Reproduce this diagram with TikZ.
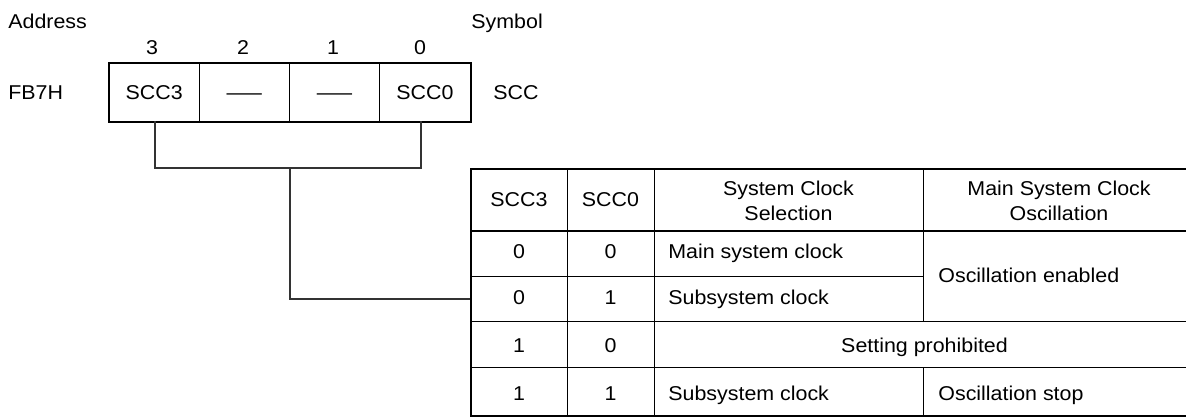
\documentclass[tikz,border=0pt]{standalone}
\usepackage{fontspec}
\setmainfont[FakeStretch=1.07]{Liberation Sans}
\begin{document}
\begin{tikzpicture}[x=0.5pt,y=-0.5pt,
  font=\fontsize{10}{12.5}\selectfont,
  txt/.style={inner sep=0pt, anchor=base},
  ltxt/.style={inner sep=0pt, anchor=base west},
  regcell/.style={draw, line width=0.5pt, minimum width=45.125pt, minimum height=29pt, inner sep=0pt, anchor=center, text height=0pt, text depth=0pt},
  frame/.style={line width=1pt},
  grid/.style={line width=0.5pt},
  conn/.style={line width=0.65pt, black!80}]
\useasboundingbox (0,0) rectangle (1186,418);
\clip (0,0) rectangle (1186,418);

% labels above register
\node[ltxt] (addr) at (8,28) {Address};
\node[ltxt] (sym) at (471,28) {Symbol};
\node[txt] (n3) at (152,54) {3};
\node[txt] (n2) at (243,54) {2};
\node[txt] (n1) at (333,54) {1};
\node[txt] (n0) at (420,54) {0};
\node[ltxt] (adr) at (8,99) {FB7H};
\node[ltxt] (symb) at (493,99) {SCC};

% register cells
\node[regcell] (b3) at (154.125,92) {};
\node[regcell] (b2) at (244.375,92) {};
\node[regcell] (b1) at (334.625,92) {};
\node[regcell] (b0) at (424.875,92) {};
\node[txt] (t3) at (154.125,99) {SCC3};
\node[txt] (t2) at (244.375,99) {\scalebox{1.65}[1]{—}};
\node[txt] (t1) at (334.625,99) {\scalebox{1.65}[1]{—}};
\node[txt] (t0) at (424.875,99) {SCC0};
\draw[frame] (b3.north west) rectangle (b0.south east);

% connector
\coordinate (j) at (290,168);
\coordinate (tin) at (471,299);
\coordinate (c3) at (155,121);
\coordinate (c0) at (421,121);
\draw[conn] (c3) |- (j) -| (c0);
\draw[conn] (j) |- (tin);

% table grid
\draw[grid] (567,169) -- (567,416);
\draw[grid] (654,169) -- (654,416);
\draw[grid] (923,169) -- (923,321);
\draw[grid] (923,367) -- (923,416);
\draw[grid] (471,276) -- (923,276);
\draw[grid] (471,321) -- (1195,321);
\draw[grid] (471,367) -- (1195,367);
\draw[frame] (471,231) -- (1195,231);
\draw[frame] (471,169) rectangle (1195,416);

% header
\node[txt] (h1) at (519,206) {SCC3};
\node[txt] (h2) at (610.5,206) {SCC0};
\node[txt] (h3a) at (788.5,195) {System Clock};
\node[txt] (h3b) at (788.5,220) {Selection};
\node[txt] (h4a) at (1059,195) {Main System Clock};
\node[txt] (h4b) at (1059,220) {Oscillation};

% rows
\node[txt] (r1a) at (519,258) {0};
\node[txt] (r1b) at (610.5,258) {0};
\node[ltxt] (r1c) at (668,258) {Main system clock};
\node[ltxt] (r12d) at (938,282) {Oscillation enabled};
\node[txt] (r2a) at (519,304) {0};
\node[txt] (r2b) at (610.5,304) {1};
\node[ltxt] (r2c) at (668,304) {Subsystem clock};
\node[txt] (r3a) at (519,352) {1};
\node[txt] (r3b) at (610.5,352) {0};
\node[txt] (r3c) at (924.5,352) {Setting prohibited};
\node[txt] (r4a) at (519,400) {1};
\node[txt] (r4b) at (610.5,400) {1};
\node[ltxt] (r4c) at (668,400) {Subsystem clock};
\node[ltxt] (r4d) at (938,400) {Oscillation stop};
\end{tikzpicture}
\end{document}
